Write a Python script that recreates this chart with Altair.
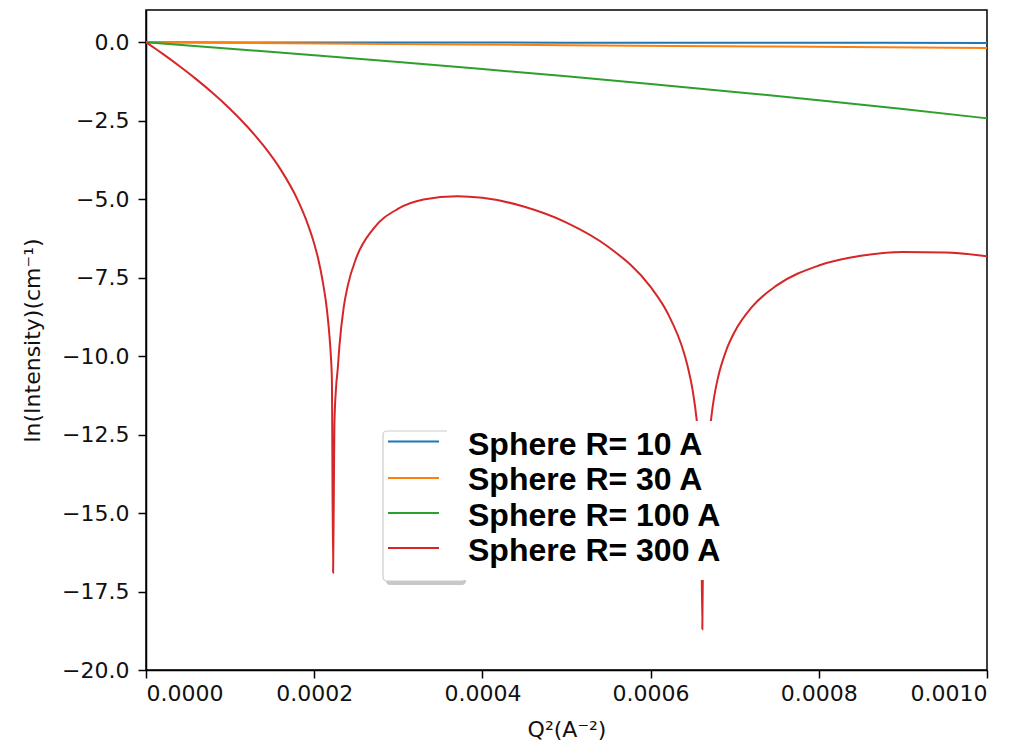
import altair as alt
import pandas as pd

# ---- data ----
series_names = ["Sphere R= 10 A", "Sphere R= 30 A", "Sphere R= 100 A", "Sphere R= 300 A"]
series_colors = ["#1f77b4", "#ff7f0e", "#2ca02c", "#d62728"]

q2_r10 = [0.0, 0.00025, 0.0005, 0.00075, 0.001]
ln_r10 = [0.0, -0.005, -0.010, -0.015, -0.020]

q2_r30 = [0.0, 0.00025, 0.0005, 0.00075, 0.001]
ln_r30 = [0.0, -0.045, -0.091, -0.136, -0.182]

q2_r100 = [0.0, 0.0001, 0.0002, 0.0003, 0.0004, 0.0005, 0.0006, 0.0007, 0.0008, 0.0009, 0.001]
ln_r100 = [0.0, -0.203, -0.412, -0.628, -0.852, -1.084, -1.326, -1.579, -1.844, -2.124, -2.422]

q2_r300 = [0.0, 0.000005, 0.00001, 0.00002, 0.00004, 0.00006, 0.00008, 0.0001, 0.00012,
           0.00014, 0.00016, 0.00018, 0.00019, 0.0002, 0.000205, 0.00021, 0.000215,
           0.000218, 0.00022, 0.000221, 0.0002225, 0.000224, 0.000226, 0.000228,
           0.00023, 0.000235, 0.00024, 0.00025, 0.00027, 0.0003, 0.00033, 0.00037,
           0.0004, 0.00045, 0.0005, 0.00055, 0.0006, 0.00062, 0.00064, 0.000645,
           0.00065, 0.000655, 0.000658, 0.00066, 0.0006615, 0.000663, 0.000666,
           0.000668, 0.00067, 0.000675, 0.00068, 0.00069, 0.0007, 0.00072, 0.00075,
           0.0008, 0.00085, 0.0009, 0.00095, 0.001]
ln_r300 = [0.0, -0.091, -0.182, -0.370, -0.762, -1.180, -1.631, -2.124, -2.674,
           -3.301, -4.049, -5.002, -5.625, -6.415, -6.926, -7.597, -8.492,
           -9.311, -10.08, -10.7, -16.9, -12.2, -11.0, -10.4,
           -9.676, -8.457, -7.744, -6.870, -5.950, -5.302, -5.011, -4.903,
           -4.956, -5.238, -5.742, -6.522, -7.795, -8.617, -9.923, -10.43,
           -11.09, -12.08, -13.02, -14.2, -18.7, -14.3, -13.6,
           -13.0, -12.46, -11.39, -10.70, -9.812, -9.221, -8.447, -7.746,
           -7.113, -6.804, -6.680, -6.693, -6.819]

x_ticks = [0.0, 0.0002, 0.0004, 0.0006, 0.0008, 0.001]
y_ticks = [0.0, -2.5, -5.0, -7.5, -10.0, -12.5, -15.0, -17.5, -20.0]

rows = []
for name, xs, ys in zip(series_names,
                        [q2_r10, q2_r30, q2_r100, q2_r300],
                        [ln_r10, ln_r30, ln_r100, ln_r300]):
    for i, (a, b) in enumerate(zip(xs, ys)):
        rows.append({"series": name, "q2": a, "lnI": b, "i": i})
df = pd.DataFrame(rows)

FONT = "DejaVu Sans"

lines = alt.Chart(df).mark_line(strokeWidth=2, interpolate="monotone", clip=True).encode(
    x=alt.X("q2:Q",
            scale=alt.Scale(domain=[0, 0.001], nice=False, zero=False),
            axis=alt.Axis(values=x_ticks, format=".4f", title="Q²(A⁻²)",
                          titlePadding=15, labelPadding=5)),
    y=alt.Y("lnI:Q",
            scale=alt.Scale(domain=[-20, 1.03], nice=False, zero=False),
            axis=alt.Axis(values=y_ticks, format=".1f", title="ln(Intensity)(cm⁻¹)",
                          titlePadding=17, labelPadding=9)),
    color=alt.Color("series:N", scale=alt.Scale(domain=series_names, range=series_colors),
                    legend=None),
    order="i:Q",
)

# ---- legend (frame partly hidden by a white label panel, as in the reference) ----
shadow = alt.Chart(pd.DataFrame({"k": [0]})).mark_rect(
    fill="#9a9a9a", opacity=0.55, cornerRadius=4).encode(
    x=alt.value(240), x2=alt.value(320), y=alt.value(425), y2=alt.value(575))
frame = alt.Chart(pd.DataFrame({"k": [0]})).mark_rect(
    fill="white", stroke="#cccccc", strokeWidth=1.2, cornerRadius=4).encode(
    x=alt.value(237), x2=alt.value(320), y=alt.value(421), y2=alt.value(571))

layers = [lines, shadow, frame]

sample_y = [441.5 - 10, 478 - 10, 513 - 10, 548 - 10]
label_y = [445 - 10, 480 - 10, 516 - 10, 551 - 10]
for name, col, sy in zip(series_names, series_colors, sample_y):
    layers.append(
        alt.Chart(pd.DataFrame({"k": [0]})).mark_rule(stroke=col, strokeWidth=2).encode(
            x=alt.value(242), x2=alt.value(293), y=alt.value(sy)))

panel = alt.Chart(pd.DataFrame({"k": [0]})).mark_rect(fill="white").encode(
    x=alt.value(301), x2=alt.value(580), y=alt.value(411), y2=alt.value(570))
layers.append(panel)

for name, ly in zip(series_names, label_y):
    layers.append(
        alt.Chart(pd.DataFrame({"t": [name]})).mark_text(
            font="Liberation Sans", fontWeight="bold", fontSize=32, align="left",
            baseline="middle", color="black").encode(
            x=alt.value(322), y=alt.value(ly), text="t:N"))

chart = alt.layer(*layers).properties(
    width=841, height=660,
    autosize=alt.AutoSizeParams(type="none"),
    padding={"left": 138, "top": 2, "right": 35, "bottom": 72},
).configure_view(
    stroke="black", strokeWidth=1.5
).configure_axis(
    grid=False,
    domainColor="black", domainWidth=1.5,
    tickColor="black", tickWidth=1.5, tickSize=8,
    labelFont=FONT, labelFontSize=22, labelColor="#111111",
    titleFont=FONT, titleFontSize=22, titleFontWeight="normal", titleColor="#111111",
)

chart.save("out.html", embed_options={"renderer": "svg", "actions": False})
